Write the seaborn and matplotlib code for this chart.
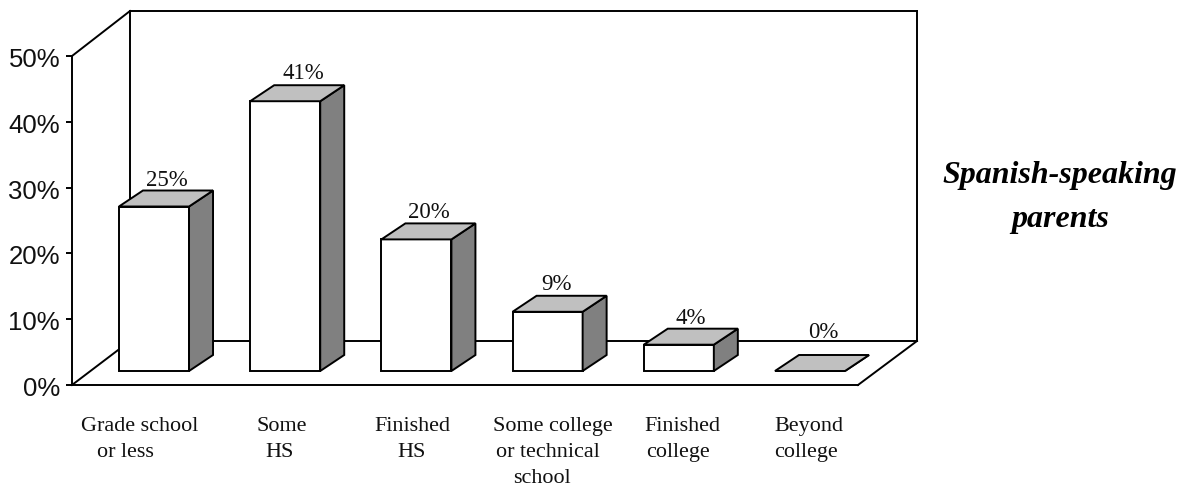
import seaborn as sns
import matplotlib.pyplot as plt
from matplotlib.lines import Line2D
from matplotlib.patches import Polygon
from matplotlib.ticker import PercentFormatter
from matplotlib.transforms import Affine2D, IdentityTransform

categories = ['Grade school', 'Some HS', 'Finished HS', 'Some college', 'Finished college', 'Beyond college']
values = [25, 41, 20, 9, 4, 0]
value_labels = ['25%', '41%', '20%', '9%', '4%', '0%']
y_ticks = [0, 10, 20, 30, 40, 50]

W, H = 1186, 487
DEPTH_X, DEPTH_Y = 24, 16
LW = 1.4

sns.set_style('white')
plt.rcParams['font.family'] = ['Liberation Serif', 'DejaVu Sans']

fig = plt.figure(figsize=(W / 100, H / 100), dpi=100)
px = Affine2D().scale(1, -1).translate(0, H)  # image pixels, y going down


def rect(left, right, top, bottom):
    return [left / W, 1 - bottom / H, (right - left) / W, (bottom - top) / H]


# walls and floor, with the value axis on the front left edge
wall = fig.add_axes(rect(71.5, 858, 56, 385))
wall.patch.set_alpha(0)
wall.set_xlim(0, 1)
wall.set_ylim(0, 50)
wall.set_xticks([])
wall.set_yticks(y_ticks)
wall.yaxis.set_major_formatter(PercentFormatter(decimals=0))
wall.tick_params(axis='y', left=True, length=4.5, width=LW, color='black', pad=3.7)
for lab in wall.get_yticklabels():
    lab.set_fontfamily('Liberation Sans')
    lab.set_fontsize(18.5)
    lab.set_color('#111111')
    lab.set_transform(lab.get_transform() + Affine2D().translate(0, -1.5))
for side in ['top', 'right']:
    wall.spines[side].set_visible(False)
for side in ['left', 'bottom']:
    wall.spines[side].set_color('black')
    wall.spines[side].set_linewidth(LW)

wall_lines = [
    ([72, 130], [56, 11]),
    ([130, 917], [11, 11]),
    ([130, 130], [11, 341]),
    ([917, 917], [11, 341]),
    ([130, 917], [341, 341]),
    ([72, 130], [385, 341]),
    ([858, 917], [385, 341]),
]
for xs, ys in wall_lines:
    wall.add_line(Line2D(xs, ys, transform=px, color='black', lw=LW, clip_on=False,
                         solid_capstyle='projecting'))

# bars sit partway into the floor, so they get their own axes
ax = fig.add_axes(rect(88.4, 875.6, 42, 371))
ax.set_zorder(wall.get_zorder() + 1)
ax.patch.set_alpha(0)
sns.barplot(x=categories, y=values, color='white', saturation=1, edgecolor='black',
            linewidth=LW, width=0.534, ax=ax)
ax.set_ylim(0, 50)
ax.axis('off')

# 3D faces taken from the bars seaborn drew
label_dx = [12.5, 18, 12, 9, 12, 13]
label_dy = [20, 22, 21, 22, 21, 33]
for bar, text, dx, dy in zip(list(ax.patches), value_labels, label_dx, label_dy):
    bar.set_clip_on(False)
    x0, y0 = ax.transData.transform((bar.get_x(), bar.get_y()))
    x1, y1 = ax.transData.transform((bar.get_x() + bar.get_width(), bar.get_y() + bar.get_height()))
    top_face = [(x0, y1), (x1, y1), (x1 + DEPTH_X, y1 + DEPTH_Y), (x0 + DEPTH_X, y1 + DEPTH_Y)]
    side_face = [(x1, y0), (x1 + DEPTH_X, y0 + DEPTH_Y), (x1 + DEPTH_X, y1 + DEPTH_Y), (x1, y1)]
    for pts, color in [(side_face, '#808080'), (top_face, '#C0C0C0')]:
        ax.add_patch(Polygon(pts, closed=True, facecolor=color, edgecolor='black', lw=LW,
                             joinstyle='miter', transform=IdentityTransform(), clip_on=False))
    ax.annotate(text, (bar.get_x() + bar.get_width() / 2, bar.get_height()),
                xytext=(dx, dy), textcoords='offset pixels', ha='center', va='baseline',
                fontsize=16.5, color='#111111', annotation_clip=False)

# category labels are hand-spaced in the source, each line sits on its own
label_lines = [
    ('Grade school', 140, 431), ('or less', 125.5, 457),
    ('Some', 281.5, 431), ('HS', 279.5, 457),
    ('Finished', 412.5, 431), ('HS', 412, 457),
    ('Some college', 553, 431), ('or technical', 548, 457), ('school', 541.5, 483),
    ('Finished', 682, 431), ('college', 678, 457),
    ('Beyond', 808.5, 431), ('college', 806, 457),
]
for text, x, y in label_lines:
    fig.text(x / W, 1 - y / H, text, ha='center', va='baseline', fontsize=15.9, color='#111111')

fig.text(1060 / W, 1 - 183 / H, 'Spanish-speaking', ha='center', va='baseline', fontsize=23,
         fontweight='bold', fontstyle='italic', color='black')
fig.text(1060 / W, 1 - 227 / H, 'parents', ha='center', va='baseline', fontsize=23,
         fontweight='bold', fontstyle='italic', color='black')

fig.savefig('out.png', dpi=100, facecolor='white')
